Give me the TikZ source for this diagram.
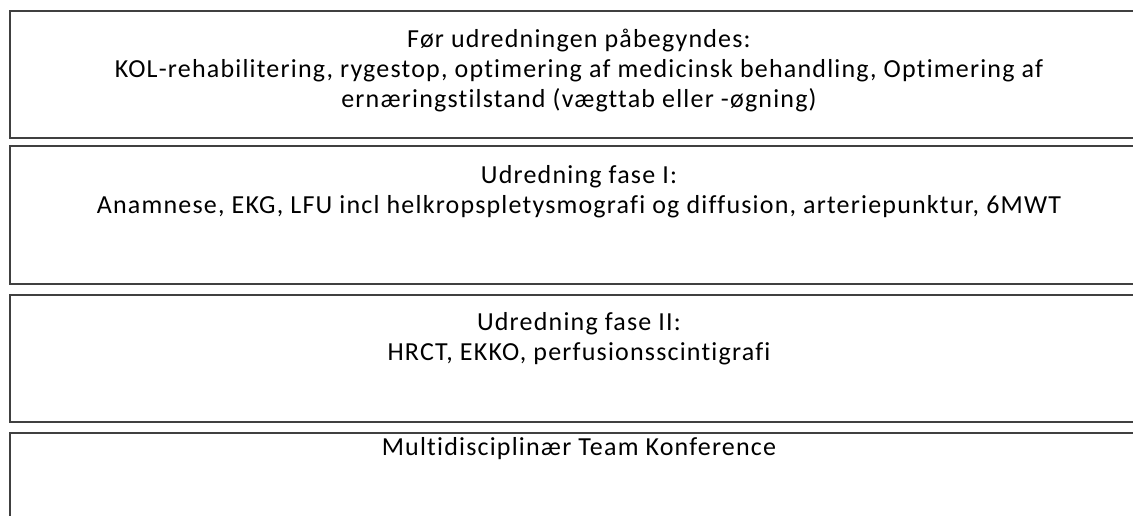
\documentclass[tikz,border=0pt]{standalone}
\usepackage{fontspec}
\setmainfont[LetterSpace=4.6,Ligatures=NoCommon]{Carlito}
\newcommand{\topstrut}{\rule{0pt}{21.5pt}}
\begin{document}
\begin{tikzpicture}[x=1pt,y=-1pt,
  box/.style={draw=black!75,line width=2pt,minimum width=1133pt,anchor=north west,inner sep=0pt},
  txt/.style={anchor=north,align=center,font=\fontsize{26}{30}\selectfont,inner sep=0pt,text=black}]
\useasboundingbox (0,0) rectangle (1133,515);
\clip (0,0) rectangle (1133,515);
\node[box,minimum height=127.5pt] (b1) at (9,9.5) {};
\node[box,minimum height=138pt] (b2) at (9,145) {};
\node[box,minimum height=127pt] (b3) at (9,294) {};
\node[box,minimum height=120pt] (b4) at (9,432) {};
\node[txt] (t1) at (579,26) {\topstrut Før udredningen påbegyndes:\\KOL-rehabilitering, rygestop, optimering af medicinsk behandling, Optimering af\\ernæringstilstand (vægttab eller -øgning)};
\node[txt] (t2) at (579,162) {\topstrut Udredning fase I:\\Anamnese, EKG, LFU incl helkropspletysmografi og diffusion, arteriepunktur, 6MWT};
\node[txt] (t3) at (579,309) {\topstrut Udredning fase II:\\HRCT, EKKO, perfusionsscintigrafi};
\node[txt] (t4) at (579,434) {\topstrut Multidisciplinær Team Konference};
\end{tikzpicture}
\end{document}
